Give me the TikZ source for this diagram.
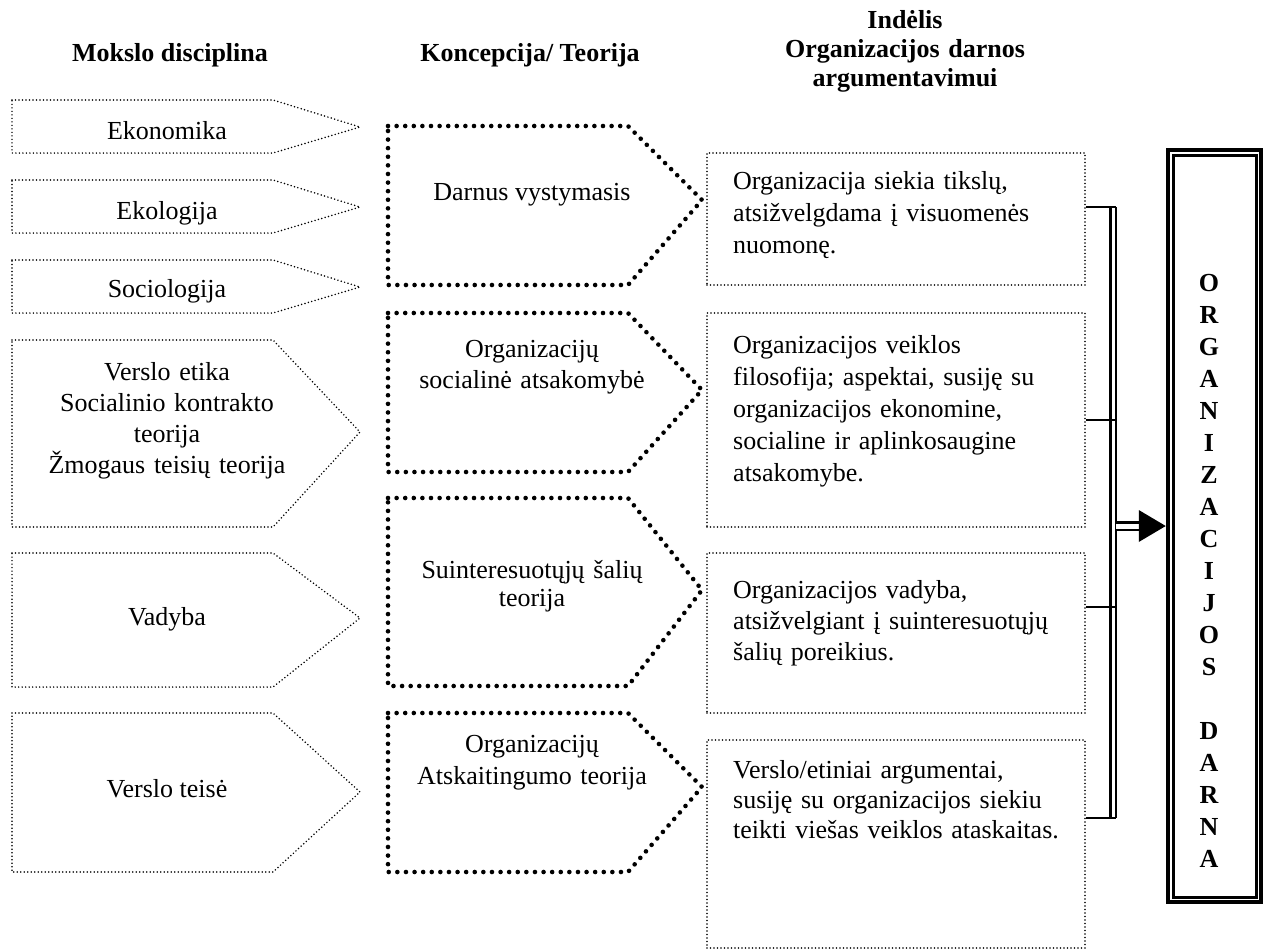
\documentclass[tikz,border=0pt]{standalone}
\usepackage{fontspec}
\setmainfont{Liberation Serif}
\usetikzlibrary{calc}
\tikzset{
 fine/.style={line width=1.7pt, dash pattern=on 0pt off 3.5pt, line cap=round},
 heavy/.style={line width=4.6pt, dash pattern=on 0pt off 8.6pt, line cap=round},
 lbl/.style={font=\fontsize{26}{31}\selectfont, inner sep=0pt, align=center, anchor=base},
 hdr/.style={font=\fontsize{26}{29}\selectfont\bfseries, inner sep=0pt, align=center, anchor=base},
 rtxt/.style={font=\fontsize{26}{32}\selectfont, inner sep=0pt, align=left, anchor=base west, text width=370pt},
 rbox/.style={fine, draw, inner sep=0pt, minimum width=378pt},
 conn/.style={line width=2.4pt},
}
\newcommand\mypent[7]{\draw[#1] (#2,#5) -- (#3,#5) -- (#4,#7) -- (#3,#6) -- (#2,#6) -- cycle;}
\begin{document}
\begin{tikzpicture}[x=1pt,y=-1pt]
\useasboundingbox (0,0) rectangle (1264,951);
% headers
\node[hdr] (h1) at (170,61) {Mokslo disciplina};
\node[hdr] (h2) at (530,61) {Koncepcija/ Teorija};
\node[hdr, text width=400pt] (h3) at (905,28) {Indėlis\\Organizacijos darnos\\argumentavimui};
% left pentagons
\mypent{fine}{12}{273}{360}{100}{153}{127}
\mypent{fine}{12}{273}{360}{180}{233}{207}
\mypent{fine}{12}{273}{360}{260}{313}{287}
\mypent{fine}{12}{273}{360}{340}{527}{432}
\mypent{fine}{12}{273}{360}{553}{687}{618}
\mypent{fine}{12}{273}{360}{713}{872}{792}
\node[lbl] (d1) at (167,139) {Ekonomika};
\node[lbl] (d2) at (167,219) {Ekologija};
\node[lbl] (d3) at (167,297) {Sociologija};
\node[lbl, text width=300pt] (d4) at (167,380) {Verslo etika\\Socialinio kontrakto\\teorija\\Žmogaus teisių teorija};
\node[lbl] (d5) at (167,625) {Vadyba};
\node[lbl] (d6) at (167,797) {Verslo teisė};
% middle pentagons
\mypent{heavy}{388}{628}{702}{126}{285}{200}
\mypent{heavy}{388}{628}{702}{313}{472}{390}
\mypent{heavy}{388}{628}{702}{498}{686}{590}
\mypent{heavy}{388}{628}{702}{713}{872}{787}
\node[lbl] (k1) at (532,200) {Darnus vystymasis};
\node[lbl, text width=300pt] (k2) at (532,357) {Organizacijų\\socialinė atsakomybė};
\node[lbl, text width=300pt, font=\fontsize{26}{28}\selectfont] (k3) at (532,578) {Suinteresuotųjų šalių\\teorija};
\node[lbl, text width=300pt, font=\fontsize{26}{32}\selectfont] (k4) at (532,752) {Organizacijų\\Atskaitingumo teorija};
% right boxes
\node[rbox, minimum height=132pt] (r1) at (896,219) {};
\node[rbox, minimum height=214pt] (r2) at (896,420) {};
\node[rbox, minimum height=160pt] (r3) at (896,633) {};
\node[rbox, minimum height=208pt] (r4) at (896,844) {};
\node[rtxt] (t1) at (733,189) {Organizacija siekia tikslų,\\atsižvelgdama į visuomenės\\nuomonę.};
\node[rtxt] (t2) at (733,353) {Organizacijos veiklos\\filosofija; aspektai, susiję su\\organizacijos ekonomine,\\socialine ir aplinkosaugine\\atsakomybe.};
\node[rtxt, font=\fontsize{26}{31}\selectfont] (t3) at (733,598) {Organizacijos vadyba,\\atsižvelgiant į suinteresuotųjų\\šalių poreikius.};
\node[rtxt, font=\fontsize{26}{30}\selectfont] (t4) at (733,778) {Verslo/etiniai argumentai,\\susiję su organizacijos siekiu\\teikti viešas veiklos ataskaitas.};
% big box
\node[draw, line width=4.5pt, minimum width=93pt, minimum height=752pt, inner sep=0pt] (big) at (1214.5,526) {};
\draw[line width=2.8pt] ($(big.north west)+(8,8)$) rectangle ($(big.south east)+(-7,-7)$);
\node[font=\fontsize{26}{32}\selectfont\bfseries, text width=40pt, align=center, anchor=base, inner sep=0pt] (lt) at (1209,291) {O\\R\\G\\A\\N\\I\\Z\\A\\C\\I\\J\\O\\S\\\mbox{}\\D\\A\\R\\N\\A};
% bracket
\coordinate (b1a) at (1110.5,207);
\coordinate (b1b) at (1116,207);
\coordinate (b4a) at (1110.5,818);
\coordinate (b4b) at (1116,818);
\draw[conn] ([yshift=12pt]r1.east) -- (b1b);
\draw[conn] (r2.east) -- (r2.east -| b1b);
\draw[conn] ([yshift=26pt]r3.east) -- ([yshift=26pt]r3.east -| b1b);
\draw[conn] ([yshift=26pt]r4.east) -- (b4b);
\draw[conn] (b1a) -- (b4a);
\draw[conn] (b1b) -- (b4b);
% arrow
\coordinate (arr) at (1116,526);
\draw[line width=2.4pt, double distance=5pt] (arr) -- ($(big.west |- arr)+(-24,0)$);
\fill ($(big.west |- arr)+(-27,-16)$) -- (big.west |- arr) -- ($(big.west |- arr)+(-27,16)$) -- cycle;
\end{tikzpicture}
\end{document}
